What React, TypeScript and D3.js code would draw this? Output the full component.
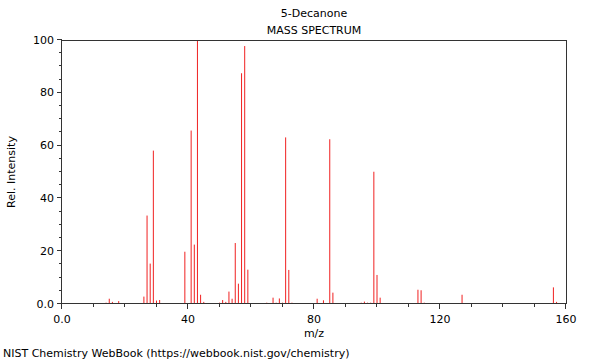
import React from "react";
import * as d3 from "d3";

const mz: number[] = [14, 15, 16, 18, 26, 27, 28, 29, 30, 31, 39, 41, 42, 43, 44, 45, 50, 51, 52, 53, 54, 55, 56, 57, 58, 59, 65, 67, 68, 69, 70, 71, 72, 73, 81, 83, 85, 86, 95, 96, 97, 98, 99, 100, 101, 113, 114, 115, 127, 156, 157];
const intensity: number[] = [0.5, 2.0, 0.8, 1.1, 2.8, 33.5, 15.3, 58.1, 1.3, 1.5, 19.8, 65.7, 22.5, 100, 3.5, 0.8, 0.5, 1.5, 0.8, 4.7, 2.0, 23.1, 7.7, 87.4, 97.7, 13.0, 0.5, 2.4, 0.5, 2.1, 0.5, 63.1, 12.9, 0.5, 2.0, 1.4, 62.4, 4.3, 0.5, 0.9, 0.5, 0.5, 50.1, 11.0, 2.4, 5.4, 5.2, 0.5, 3.5, 6.3, 0.8];
const xTicksMajor: number[] = [0, 40, 80, 120, 160];
const xTickLabels: string[] = ["0.0", "40", "80", "120", "160"];
const yTicksMajor: number[] = [0, 20, 40, 60, 80, 100];
const yTickLabels: string[] = ["0.0", "20", "40", "60", "80", "100"];
const title1 = "5-Decanone";
const title2 = "MASS SPECTRUM";
const xLabel = "m/z";
const yLabel = "Rel. Intensity";
const footer = "NIST Chemistry WebBook (https://webbook.nist.gov/chemistry)";

const W = 600, H = 360;
const L = 62, R = 566, T = 40, B = 304;
const FONT = "DejaVu Sans";

export default function App() {
  const x = d3.scaleLinear().domain([0, 160]).range([L, R]);
  const y = d3.scaleLinear().domain([0, 100]).range([B, T]);
  const xMinor = d3.range(0, 161, 10);
  const yMinor = d3.range(0, 101, 5);
  const axisColor = "#333";
  return (
    <svg width={W} height={H} style={{ position: "absolute", left: 0, top: 0, background: "#fff" }} fontFamily={FONT}>
      <rect x={0} y={0} width={W} height={H} fill="#fff" />
      <text x={(L + R) / 2} y={17} fontSize={11} textAnchor="middle" fill="#000">{title1}</text>
      <text x={(L + R) / 2} y={34} fontSize={11} textAnchor="middle" fill="#000">{title2}</text>
      {/* peaks */}
      {mz.map((m, i) => (
        <line key={"p" + i} x1={x(m)} x2={x(m)} y1={y(0)} y2={y(intensity[i])} stroke="#f02020" strokeWidth={1} />
      ))}
      {/* frame */}
      <line x1={L} x2={R} y1={T + 0.5} y2={T + 0.5} stroke={axisColor} strokeWidth={1} />
      <line x1={R + 0.5} x2={R + 0.5} y1={T} y2={B} stroke={axisColor} strokeWidth={1} />
      <line x1={L - 0.5} x2={L - 0.5} y1={T} y2={B} stroke={axisColor} strokeWidth={1} />
      <line x1={L - 0.5} x2={R + 0.5} y1={B - 0.5} y2={B - 0.5} stroke={axisColor} strokeWidth={1} />
      {/* y ticks */}
      {yMinor.map((v) => (
        <line key={"ym" + v} x1={L - 3} x2={L} y1={Math.round(y(v)) - 0.5} y2={Math.round(y(v)) - 0.5} stroke={axisColor} />
      ))}
      {yTicksMajor.map((v, i) => (
        <g key={"yM" + v}>
          <line x1={L - 5} x2={L} y1={Math.round(y(v)) - 0.5} y2={Math.round(y(v)) - 0.5} stroke={axisColor} />
          <text x={L - 8} y={y(v) + 3.5} fontSize={11} textAnchor="end" fill="#000">{yTickLabels[i]}</text>
        </g>
      ))}
      {/* x ticks */}
      {xMinor.map((v) => (
        <line key={"xm" + v} x1={Math.round(x(v)) - 0.5} x2={Math.round(x(v)) - 0.5} y1={B} y2={B + 3} stroke={axisColor} />
      ))}
      {xTicksMajor.map((v, i) => (
        <g key={"xM" + v}>
          <line x1={Math.round(x(v)) - 0.5} x2={Math.round(x(v)) - 0.5} y1={B} y2={B + 5} stroke={axisColor} />
          <text x={x(v)} y={B + 19} fontSize={11} textAnchor="middle" fill="#000">{xTickLabels[i]}</text>
        </g>
      ))}
      <text x={(L + R) / 2} y={337} fontSize={11} textAnchor="middle" fill="#000">{xLabel}</text>
      <text transform={`translate(15, ${(T + B) / 2}) rotate(-90)`} fontSize={11} textAnchor="middle" fill="#000">{yLabel}</text>
      <text x={3} y={357} fontSize={11} fill="#000">{footer}</text>
    </svg>
  );
}
